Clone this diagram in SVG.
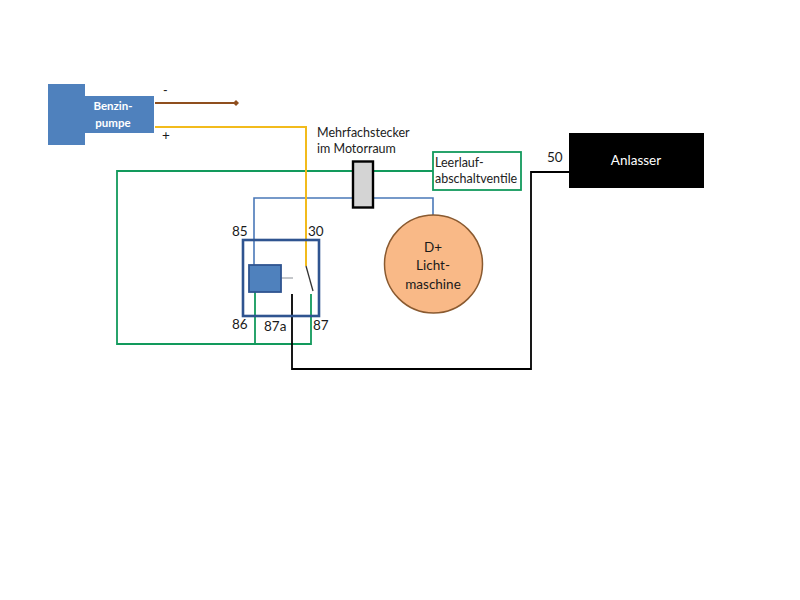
<svg xmlns="http://www.w3.org/2000/svg" width="800" height="600" viewBox="0 0 800 600">
<style>
text{font-family:"Lato","Open Sans","Liberation Sans",sans-serif;font-size:12.5px;fill:#222}
.c{text-anchor:middle}
.n{font-size:13.500px;fill:#1a1a1a}
.w{fill:#fff;font-weight:700;font-size:11.500px}
.l{fill:none;stroke-linejoin:miter}
.g{stroke:#129a5c;stroke-width:1.8}
.b{stroke:#4a78b8;stroke-width:1.6}
.y{stroke:#f2bb1c;stroke-width:2}
.k{stroke:#000;stroke-width:1.800}
</style>
<rect width="800" height="600" fill="#fff"/>
<g id="connectors">
<path class="l g" d="M352 171H117V344H311V294"/>
<path class="l g" d="M374 171H433"/>
<path class="l g" d="M255 292V344"/>
<path class="l b" d="M254 265V198H352"/>
<path class="l b" d="M374 198H433V216"/>
<path class="l" stroke="#8a8f96" stroke-width="1" d="M281 278H293"/>
<path class="l y" d="M155 127H306V266"/>
<path class="l" stroke="#333" stroke-width="1.300" d="M306 266L313 291"/>
<path class="l k" d="M292 294V369H531V172H569"/>
<path class="l" stroke="#8f4f1e" stroke-width="2" d="M155 103H236"/>
<path fill="#8f4f1e" d="M236 100L239 103L236 106L233 103Z"/>
</g>
<g id="benzinpumpe">
<path fill="#4f81bd" d="M48 84H85V96H154V133H85V145H48Z"/>
<text class="c w" x="113" y="110">Benzin-</text>
<text class="c w" x="113" y="127">pumpe</text>
<text x="163" y="95">-</text>
<text x="162" y="140" class="n">+</text>
</g>
<g id="relais">
<rect x="243" y="240" width="76" height="76" fill="none" stroke="#2f5490" stroke-width="2.600"/>
<rect x="249" y="265" width="32" height="27" fill="#4f81bd" stroke="#2f5490" stroke-width="1.800"/>
<text class="n" x="232" y="236">85</text>
<text class="n" x="308" y="236">30</text>
<text class="n" x="232" y="329">86</text>
<text class="n" x="264" y="331">87a</text>
<text class="n" x="313" y="330">87</text>
</g>
<g id="mehrfachstecker">
<rect x="353" y="161.500" width="20" height="46" fill="#d4d4d4" stroke="#000" stroke-width="2.400"/>
<text x="317" y="137">Mehrfachstecker</text>
<text x="317" y="153">im Motorraum</text>
</g>
<g id="leerlauf">
<rect x="433" y="152" width="88" height="38" fill="#fff" stroke="#129a5c" stroke-width="1.800"/>
<text x="435" y="167">Leerlauf-</text>
<text x="435" y="183">abschaltventile</text>
</g>
<g id="lichtmaschine">
<circle cx="433.500" cy="264" r="49" fill="#f9b987" stroke="#8a5a30" stroke-width="1.500"/>
<text class="c n" x="433" y="252">D+</text>
<text class="c n" x="433" y="270">Licht-</text>
<text class="c n" x="433" y="289">maschine</text>
</g>
<g id="anlasser">
<rect x="569" y="133" width="135" height="55" fill="#000"/>
<text class="c" x="636" y="165" style="fill:#fff;font-size:13.500px">Anlasser</text>
<text class="n" x="547" y="162">50</text>
</g>
</svg>
